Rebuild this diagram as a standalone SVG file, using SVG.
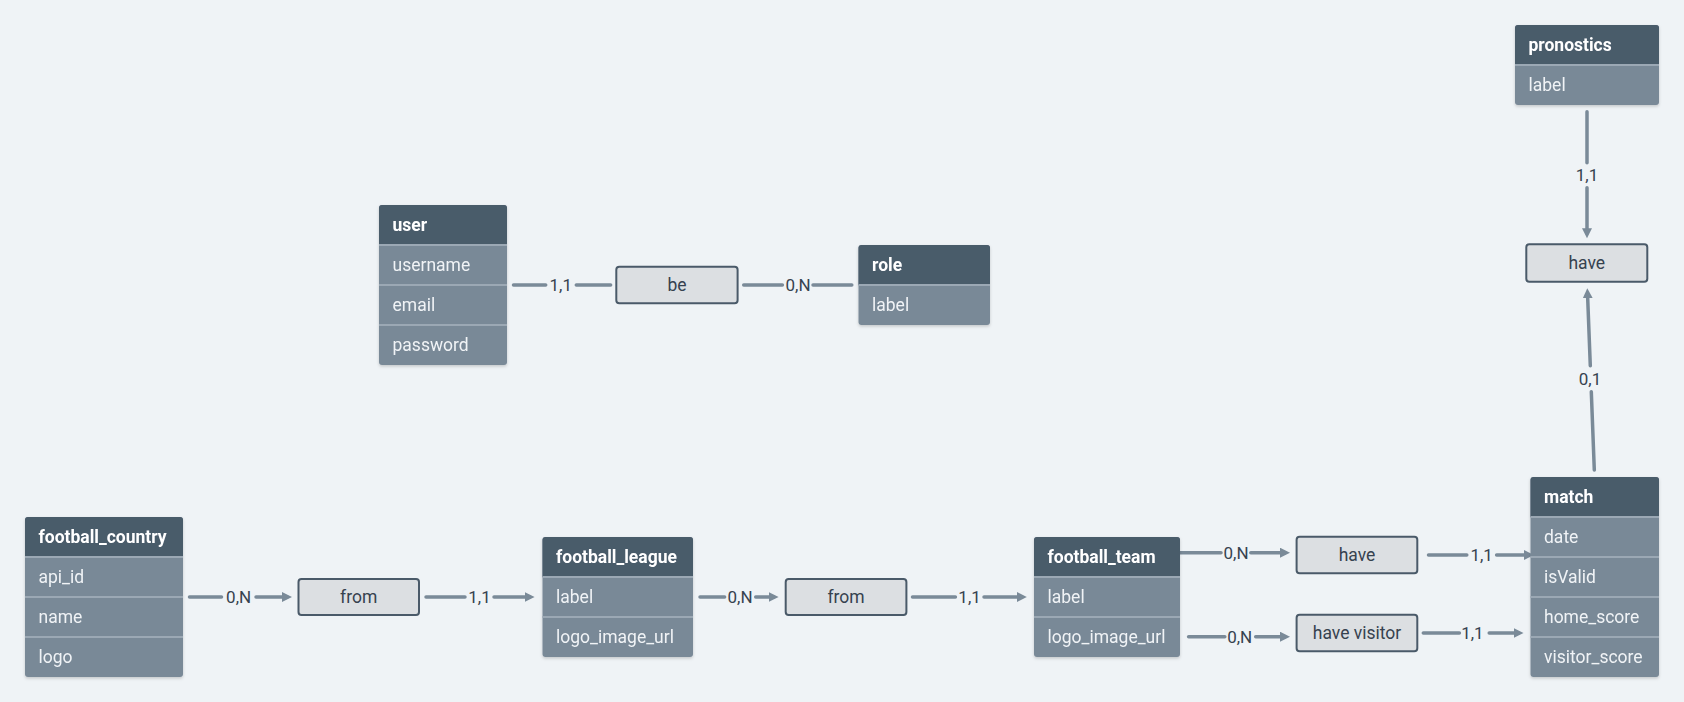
<svg xmlns="http://www.w3.org/2000/svg" width="1684" height="702" viewBox="0 0 1684 702">
<style>
.hdr{fill:#4a5b6b}
.body{fill:#798997}
.sep{stroke:#9ba8b4;stroke-width:2}
.ht{font-family:Roboto,"Liberation Sans",sans-serif;font-size:17.5px;font-weight:bold;fill:#ffffff}
.rt{font-family:Roboto,"Liberation Sans",sans-serif;font-size:17.5px;fill:#f0f3f6}
.rel{fill:#dcdfe2;stroke:#4a5a69;stroke-width:2}
.relt{font-family:Roboto,"Liberation Sans",sans-serif;font-size:17.5px;fill:#36424f;text-anchor:middle}
.ln{fill:none;stroke:#7a8a98;stroke-width:3.5;stroke-linecap:round}
.arr{marker-end:url(#ah)}
.card{font-family:Roboto,"Liberation Sans",sans-serif;font-size:17px;fill:#36424f;text-anchor:middle}
</style>
<defs>
<marker id="ah" markerUnits="userSpaceOnUse" markerWidth="11" markerHeight="11" refX="5" refY="5" orient="auto">
<path d="M0,0 L10,5 L0,10 Z" fill="#7a8a98"/>
</marker>
<filter id="sh" x="-10%" y="-10%" width="120%" height="120%">
<feDropShadow dx="0" dy="1.5" stdDeviation="1.5" flood-color="#000" flood-opacity="0.18"/>
</filter>
</defs>
<rect width="1684" height="702" fill="#eff3f6"/>

<g id="connectors">
<path class="ln" d="M189.5,597 H221.5"/><path class="ln arr" d="M256,597 H287"/>
<text class="card" x="238.6" y="603">0,N</text>
<path class="ln" d="M426,597 H465"/><path class="ln arr" d="M494,597 H529.6"/>
<text class="card" x="479.5" y="603">1,1</text>
<path class="ln" d="M700,597 H724.6"/><path class="ln arr" d="M755.7,597 H773.6"/>
<text class="card" x="740" y="603">0,N</text>
<path class="ln" d="M912.5,597 H955.4"/><path class="ln arr" d="M984,597 H1021.8"/>
<text class="card" x="969.6" y="603">1,1</text>
<path class="ln" d="M1180,552.7 H1221"/><path class="ln arr" d="M1250.8,552.7 H1285"/>
<text class="card" x="1236" y="558.7">0,N</text>
<path class="ln" d="M1428.5,555 H1466.8"/><path class="ln arr" d="M1496.6,555 H1528.9"/>
<text class="card" x="1481.7" y="561">1,1</text>
<path class="ln" d="M1188.6,636.7 H1224.8"/><path class="ln arr" d="M1255.7,636.7 H1285"/>
<text class="card" x="1239.7" y="642.7">0,N</text>
<path class="ln" d="M1423.3,633 H1459.4"/><path class="ln arr" d="M1489.2,633 H1518.5"/>
<text class="card" x="1472.4" y="639">1,1</text>
<path class="ln" d="M513.5,285 H545.7"/><path class="ln" d="M576.3,285 H610.6"/>
<text class="card" x="560.8" y="291">1,1</text>
<path class="ln" d="M743.7,285 H782.4"/><path class="ln" d="M813,285 H851.8"/>
<text class="card" x="798" y="291">0,N</text>
<path class="ln" d="M1587,111.7 V162.7"/><path class="ln arr" d="M1587,187.7 V233.3"/>
<text class="card" x="1587" y="181">1,1</text>
<path class="ln" d="M1594.3,470 L1591.3,391.7"/><path class="ln arr" d="M1590.3,365.7 L1587.5,293.3"/>
<text class="card" x="1590" y="385">0,1</text>
</g>

<g id="football_country" filter="url(#sh)">
<rect class="body" x="25" y="517" width="158" height="160" rx="3"/>
<path class="hdr" d="M25,557 V520 Q25,517 28,517 H180 Q183,517 183,520 V557 Z"/>
<line class="sep" x1="25" y1="557" x2="183" y2="557"/>
<line class="sep" x1="25" y1="597" x2="183" y2="597"/>
<line class="sep" x1="25" y1="637" x2="183" y2="637"/>
<text class="ht" x="38.5" y="543">football_country</text>
<text class="rt" x="38.5" y="583">api_id</text>
<text class="rt" x="38.5" y="623">name</text>
<text class="rt" x="38.5" y="663">logo</text>
</g>

<g id="football_league" filter="url(#sh)">
<rect class="body" x="542.5" y="537" width="150.5" height="120" rx="3"/>
<path class="hdr" d="M542.5,577 V540 Q542.5,537 545.5,537 H690 Q693,537 693,540 V577 Z"/>
<line class="sep" x1="542.5" y1="577" x2="693" y2="577"/>
<line class="sep" x1="542.5" y1="617" x2="693" y2="617"/>
<text class="ht" x="556" y="563">football_league</text>
<text class="rt" x="556" y="603">label</text>
<text class="rt" x="556" y="643">logo_image_url</text>
</g>

<g id="football_team" filter="url(#sh)">
<rect class="body" x="1034" y="537" width="146" height="120" rx="3"/>
<path class="hdr" d="M1034,577 V540 Q1034,537 1037,537 H1177 Q1180,537 1180,540 V577 Z"/>
<line class="sep" x1="1034" y1="577" x2="1180" y2="577"/>
<line class="sep" x1="1034" y1="617" x2="1180" y2="617"/>
<text class="ht" x="1047.5" y="563">football_team</text>
<text class="rt" x="1047.5" y="603">label</text>
<text class="rt" x="1047.5" y="643">logo_image_url</text>
</g>

<g id="match" filter="url(#sh)">
<rect class="body" x="1530.5" y="477" width="128.5" height="200" rx="3"/>
<path class="hdr" d="M1530.5,517 V480 Q1530.5,477 1533.5,477 H1656 Q1659,477 1659,480 V517 Z"/>
<line class="sep" x1="1530.5" y1="517" x2="1659" y2="517"/>
<line class="sep" x1="1530.5" y1="557" x2="1659" y2="557"/>
<line class="sep" x1="1530.5" y1="597" x2="1659" y2="597"/>
<line class="sep" x1="1530.5" y1="637" x2="1659" y2="637"/>
<text class="ht" x="1544" y="503">match</text>
<text class="rt" x="1544" y="543">date</text>
<text class="rt" x="1544" y="583">isValid</text>
<text class="rt" x="1544" y="623">home_score</text>
<text class="rt" x="1544" y="663">visitor_score</text>
</g>

<g id="user" filter="url(#sh)">
<rect class="body" x="379" y="205" width="128" height="160" rx="3"/>
<path class="hdr" d="M379,245 V208 Q379,205 382,205 H504 Q507,205 507,208 V245 Z"/>
<line class="sep" x1="379" y1="245" x2="507" y2="245"/>
<line class="sep" x1="379" y1="285" x2="507" y2="285"/>
<line class="sep" x1="379" y1="325" x2="507" y2="325"/>
<text class="ht" x="392.5" y="231">user</text>
<text class="rt" x="392.5" y="271">username</text>
<text class="rt" x="392.5" y="311">email</text>
<text class="rt" x="392.5" y="351">password</text>
</g>

<g id="role" filter="url(#sh)">
<rect class="body" x="858.5" y="245" width="131.5" height="80" rx="3"/>
<path class="hdr" d="M858.5,285 V248 Q858.5,245 861.5,245 H987 Q990,245 990,248 V285 Z"/>
<line class="sep" x1="858.5" y1="285" x2="990" y2="285"/>
<text class="ht" x="872" y="271">role</text>
<text class="rt" x="872" y="311">label</text>
</g>

<g id="pronostics" filter="url(#sh)">
<rect class="body" x="1515" y="25" width="144" height="80" rx="3"/>
<path class="hdr" d="M1515,65 V28 Q1515,25 1518,25 H1656 Q1659,25 1659,28 V65 Z"/>
<line class="sep" x1="1515" y1="65" x2="1659" y2="65"/>
<text class="ht" x="1528.5" y="51">pronostics</text>
<text class="rt" x="1528.5" y="91">label</text>
</g>

<g id="rel_from_country">
<rect class="rel" x="298.5" y="579" width="120.5" height="36" rx="3"/>
<text class="relt" x="358.7" y="603">from</text>
</g>
<g id="rel_from_league">
<rect class="rel" x="785.7" y="579" width="120.7" height="36" rx="3"/>
<text class="relt" x="846" y="603">from</text>
</g>
<g id="rel_have_match">
<rect class="rel" x="1296.6" y="536.7" width="120.7" height="36.6" rx="3"/>
<text class="relt" x="1357" y="561">have</text>
</g>
<g id="rel_have_visitor">
<rect class="rel" x="1296.6" y="614.7" width="120.7" height="36.6" rx="3"/>
<text class="relt" x="1357" y="639">have visitor</text>
</g>
<g id="rel_be">
<rect class="rel" x="616.3" y="266.7" width="121.3" height="36.6" rx="3"/>
<text class="relt" x="677" y="291">be</text>
</g>
<g id="rel_have_pronostics">
<rect class="rel" x="1526.3" y="244.3" width="121" height="37.4" rx="3"/>
<text class="relt" x="1586.8" y="269">have</text>
</g>
</svg>
